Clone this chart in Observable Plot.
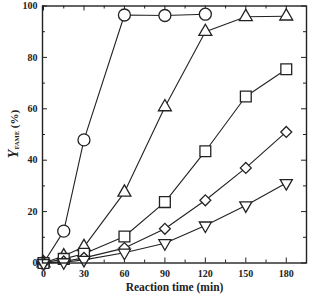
<!DOCTYPE html>
<html>
<head>
<meta charset="utf-8">
<script src="https://cdn.jsdelivr.net/npm/d3@7"></script>
<script src="https://cdn.jsdelivr.net/npm/@observablehq/plot@0.6"></script>
<style>
  html, body { margin: 0; padding: 0; background: white; }
</style>
</head>
<body>
<div id="chart"></div>
<script>
// ---- data ----
const times = [0, 15, 30, 60, 90, 120, 150, 180];
const circleY   = [0, 12.4, 47.9, 96.5, 96.3, 96.8];
const triangleY = [0, 2.7, 6.3, 27.5, 60.7, 90.0, 95.8, 96.0];
const squareY   = [0, 1.6, 3.6, 10.3, 23.7, 43.5, 64.8, 75.4];
const diamondY  = [0, 0.6, 2.0, 5.8, 13.3, 24.4, 37.0, 51.0];
const invTriY   = [0, 0.3, 1.2, 4.0, 7.7, 14.6, 22.4, 31.1];

const xTicks = [0, 30, 60, 90, 120, 150, 180];
const xMinor = [15, 45, 75, 105, 135, 165];
const yTicks = [0, 20, 40, 60, 80, 100];
const yMinor = [10, 30, 50, 70, 90];

const xLabel = "Reaction time (min)";

// ---- layout ----
const W = 310, H = 295;
const mL = 42, mR = 4, mT = 5.5, mB = 32.5;
const fw = W - mL - mR, fh = H - mT - mB;

const invTriangle = {
  draw(ctx, size) {
    const s3 = Math.sqrt(3);
    const y = -Math.sqrt(size / (s3 * 3));
    ctx.moveTo(0, -y * 2);
    ctx.lineTo(-s3 * y, y);
    ctx.lineTo(s3 * y, y);
    ctx.closePath();
  }
};

const series = [
  {ys: circleY, symbol: "circle", r: 6},
  {ys: triangleY, symbol: "triangle", r: 4.8},
  {ys: squareY, symbol: "square", r: 6.1},
  {ys: diamondY, symbol: "diamond2", r: 4.9},
  {ys: invTriY, symbol: invTriangle, r: 4.5}
];
const rows = series.map((s, i) => s.ys.map((v, j) => ({t: times[j], y: v, s: i})));

const lineMarks = rows.map(d => Plot.line(d, {x: "t", y: "y", stroke: "#222", strokeWidth: 1.1}));
const dotMarks = rows.map((d, i) => Plot.dot(d, {
  x: "t", y: "y", symbol: series[i].symbol, r: series[i].r,
  fill: "white", stroke: "#222", strokeWidth: 1.3
}));

const plot = Plot.plot({
  width: W, height: H,
  marginLeft: mL, marginRight: mR, marginTop: mT, marginBottom: mB,
  style: {fontFamily: "'Liberation Serif', 'DejaVu Serif', serif", fontWeight: "bold", fontSize: "10px", background: "white", color: "#222"},
  x: {domain: [-0.75, 195]},
  y: {domain: [0, 100]},
  marks: [
    // inward ticks: left/right
    Plot.tickY(yTicks, {y: d => d, insetRight: fw - 5, stroke: "#222"}),
    Plot.tickY(yMinor, {y: d => d, insetRight: fw - 3, stroke: "#222"}),
    Plot.tickY(yTicks, {y: d => d, insetLeft: fw - 5, stroke: "#222"}),
    Plot.tickY(yMinor, {y: d => d, insetLeft: fw - 3, stroke: "#222"}),
    // inward ticks: bottom/top
    Plot.tickX(xTicks, {x: d => d, insetTop: fh - 5, stroke: "#222"}),
    Plot.tickX(xMinor, {x: d => d, insetTop: fh - 3, stroke: "#222"}),
    Plot.tickX(xTicks, {x: d => d, insetBottom: fh - 5, stroke: "#222"}),
    Plot.tickX(xMinor, {x: d => d, insetBottom: fh - 3, stroke: "#222"}),
    Plot.axisX({ticks: xTicks, tickSize: 0, tickPadding: 7, label: xLabel, labelAnchor: "center", labelArrow: "none", labelOffset: 28, fontSize: 10}),
    Plot.axisY({ticks: yTicks, tickSize: 0, tickPadding: 5, label: null, fontSize: 10}),
    ...lineMarks,
    ...dotMarks,
    Plot.frame({stroke: "#222", strokeWidth: 1.4})
  ]
});

const svg = d3.select(plot);
svg.selectAll("[aria-label='x-axis label'] text").style("font-size", "11.5px");
const lab = svg.append("text")
  .attr("transform", `translate(18, 134) rotate(-90)`)
  .attr("text-anchor", "middle")
  .attr("fill", "#222")
  .style("font-family", "'Liberation Serif', 'DejaVu Serif', serif")
  .style("font-weight", "bold");
lab.append("tspan").style("font-size", "14px").style("font-style", "italic").text("Y");
lab.append("tspan").style("font-size", "6.5px").attr("dy", "1").text("FAME");
lab.append("tspan").style("font-size", "11px").attr("dy", "-1").text(" (%)");

document.getElementById("chart").appendChild(plot);
</script>
</body>
</html>
